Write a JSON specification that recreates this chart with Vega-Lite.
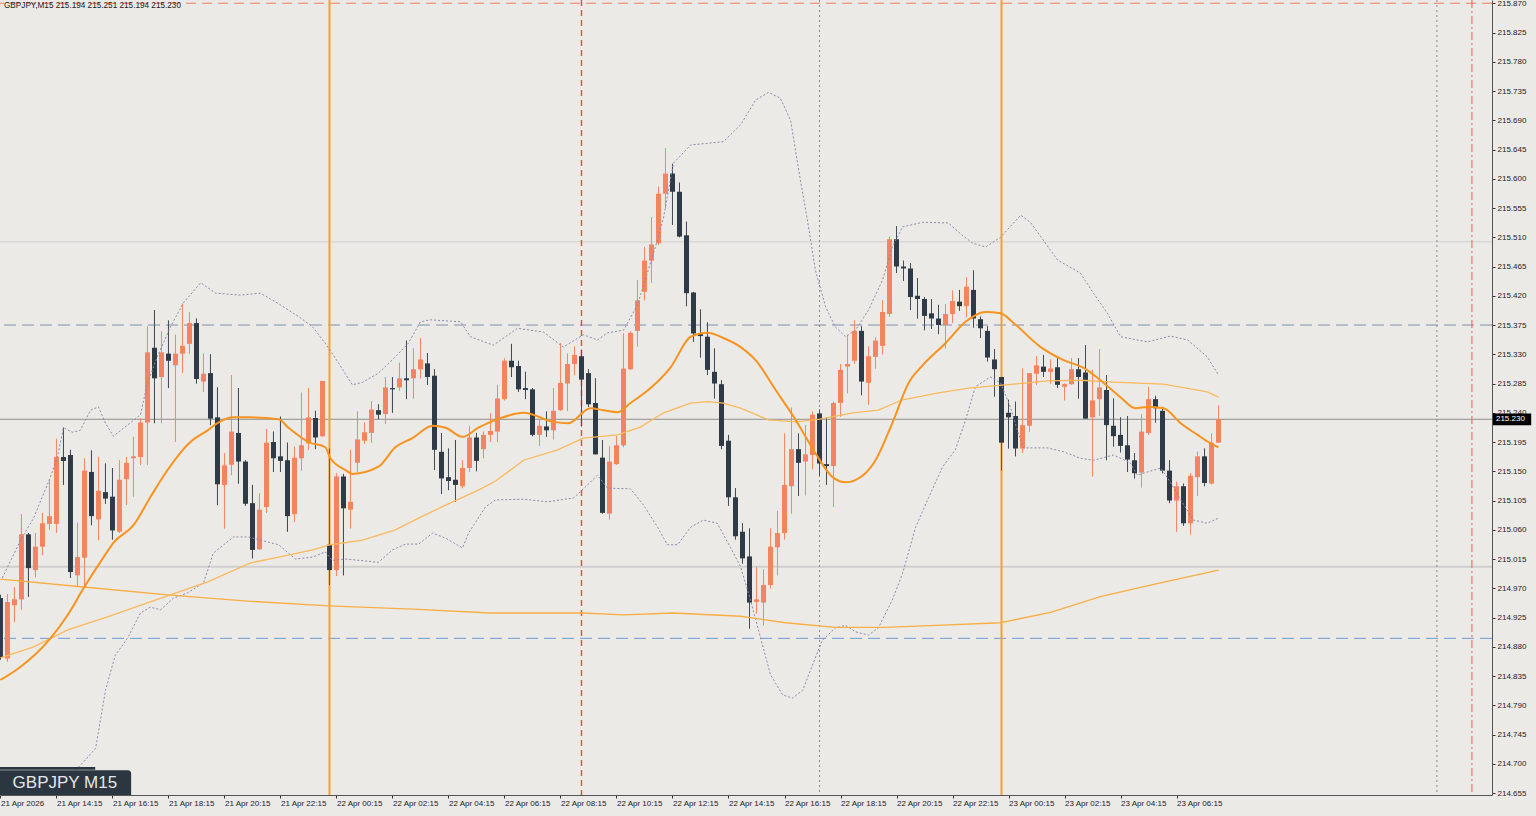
{
"$schema":"https://vega.github.io/schema/vega-lite/v6.json",
"width":1492,"height":795,
"autosize":{"type":"none"},
"padding":{"left":0,"top":0,"right":44,"bottom":21},
"background":"#ECEAE6",
"config":{"view":{"stroke":null},"font":"Liberation Sans"},
"datasets":{
"candles":[
{"t":"2026-04-21T12:15","o":214.955,"h":214.960,"l":214.860,"c":214.864},
{"t":"2026-04-21T12:30","o":214.862,"h":214.961,"l":214.857,"c":214.949},
{"t":"2026-04-21T12:45","o":214.944,"h":214.972,"l":214.918,"c":214.953},
{"t":"2026-04-21T13:00","o":214.953,"h":215.084,"l":214.937,"c":215.053},
{"t":"2026-04-21T13:15","o":215.053,"h":215.055,"l":214.957,"c":215.001},
{"t":"2026-04-21T13:30","o":214.998,"h":215.055,"l":214.987,"c":215.034},
{"t":"2026-04-21T13:45","o":215.034,"h":215.086,"l":215.021,"c":215.070},
{"t":"2026-04-21T14:00","o":215.069,"h":215.137,"l":215.060,"c":215.081},
{"t":"2026-04-21T14:15","o":215.069,"h":215.200,"l":215.055,"c":215.172},
{"t":"2026-04-21T14:30","o":215.172,"h":215.217,"l":215.129,"c":215.166},
{"t":"2026-04-21T14:45","o":215.175,"h":215.183,"l":214.986,"c":214.995},
{"t":"2026-04-21T15:00","o":214.990,"h":215.071,"l":214.973,"c":215.018},
{"t":"2026-04-21T15:15","o":215.017,"h":215.170,"l":214.972,"c":215.151},
{"t":"2026-04-21T15:30","o":215.149,"h":215.182,"l":215.067,"c":215.081},
{"t":"2026-04-21T15:45","o":215.076,"h":215.172,"l":215.044,"c":215.120},
{"t":"2026-04-21T16:00","o":215.118,"h":215.162,"l":215.100,"c":215.108},
{"t":"2026-04-21T16:15","o":215.111,"h":215.155,"l":215.045,"c":215.059},
{"t":"2026-04-21T16:30","o":215.057,"h":215.167,"l":215.055,"c":215.137},
{"t":"2026-04-21T16:45","o":215.138,"h":215.172,"l":215.098,"c":215.163},
{"t":"2026-04-21T17:00","o":215.170,"h":215.203,"l":215.111,"c":215.173},
{"t":"2026-04-21T17:15","o":215.172,"h":215.231,"l":215.160,"c":215.225},
{"t":"2026-04-21T17:30","o":215.225,"h":215.373,"l":215.160,"c":215.333},
{"t":"2026-04-21T17:45","o":215.340,"h":215.398,"l":215.224,"c":215.293},
{"t":"2026-04-21T18:00","o":215.295,"h":215.365,"l":215.224,"c":215.333},
{"t":"2026-04-21T18:15","o":215.331,"h":215.382,"l":215.278,"c":215.320},
{"t":"2026-04-21T18:30","o":215.313,"h":215.360,"l":215.195,"c":215.331},
{"t":"2026-04-21T18:45","o":215.331,"h":215.408,"l":215.301,"c":215.343},
{"t":"2026-04-21T19:00","o":215.346,"h":215.395,"l":215.331,"c":215.378},
{"t":"2026-04-21T19:15","o":215.378,"h":215.385,"l":215.285,"c":215.292},
{"t":"2026-04-21T19:30","o":215.288,"h":215.331,"l":215.272,"c":215.300},
{"t":"2026-04-21T19:45","o":215.301,"h":215.330,"l":215.221,"c":215.231},
{"t":"2026-04-21T20:00","o":215.233,"h":215.279,"l":215.098,"c":215.130},
{"t":"2026-04-21T20:15","o":215.129,"h":215.178,"l":215.062,"c":215.159},
{"t":"2026-04-21T20:30","o":215.160,"h":215.298,"l":215.144,"c":215.211},
{"t":"2026-04-21T20:45","o":215.209,"h":215.278,"l":215.131,"c":215.165},
{"t":"2026-04-21T21:00","o":215.165,"h":215.167,"l":215.097,"c":215.100},
{"t":"2026-04-21T21:15","o":215.101,"h":215.129,"l":215.016,"c":215.029},
{"t":"2026-04-21T21:30","o":215.030,"h":215.116,"l":215.029,"c":215.091},
{"t":"2026-04-21T21:45","o":215.095,"h":215.215,"l":215.086,"c":215.194},
{"t":"2026-04-21T22:00","o":215.195,"h":215.211,"l":215.149,"c":215.170},
{"t":"2026-04-21T22:15","o":215.173,"h":215.234,"l":215.149,"c":215.166},
{"t":"2026-04-21T22:30","o":215.167,"h":215.194,"l":215.057,"c":215.081},
{"t":"2026-04-21T22:45","o":215.084,"h":215.188,"l":215.072,"c":215.171},
{"t":"2026-04-21T23:00","o":215.170,"h":215.271,"l":215.151,"c":215.190},
{"t":"2026-04-21T23:15","o":215.193,"h":215.278,"l":215.183,"c":215.233},
{"t":"2026-04-21T23:30","o":215.232,"h":215.243,"l":215.184,"c":215.202},
{"t":"2026-04-21T23:45","o":215.204,"h":215.289,"l":215.203,"c":215.289},
{"t":"2026-04-22T00:00","o":215.037,"h":215.185,"l":214.975,"c":214.998},
{"t":"2026-04-22T00:15","o":214.998,"h":215.147,"l":214.989,"c":215.142},
{"t":"2026-04-22T00:30","o":215.142,"h":215.146,"l":214.990,"c":215.093},
{"t":"2026-04-22T00:45","o":215.091,"h":215.183,"l":215.062,"c":215.103},
{"t":"2026-04-22T01:00","o":215.163,"h":215.242,"l":215.149,"c":215.199},
{"t":"2026-04-22T01:15","o":215.197,"h":215.225,"l":215.192,"c":215.210},
{"t":"2026-04-22T01:30","o":215.209,"h":215.258,"l":215.194,"c":215.245},
{"t":"2026-04-22T01:45","o":215.244,"h":215.253,"l":215.230,"c":215.237},
{"t":"2026-04-22T02:00","o":215.238,"h":215.295,"l":215.223,"c":215.279},
{"t":"2026-04-22T02:15","o":215.278,"h":215.295,"l":215.240,"c":215.276},
{"t":"2026-04-22T02:30","o":215.279,"h":215.317,"l":215.274,"c":215.293},
{"t":"2026-04-22T02:45","o":215.293,"h":215.351,"l":215.261,"c":215.290},
{"t":"2026-04-22T03:00","o":215.293,"h":215.339,"l":215.262,"c":215.307},
{"t":"2026-04-22T03:15","o":215.307,"h":215.355,"l":215.293,"c":215.322},
{"t":"2026-04-22T03:30","o":215.316,"h":215.332,"l":215.283,"c":215.295},
{"t":"2026-04-22T03:45","o":215.297,"h":215.307,"l":215.152,"c":215.183},
{"t":"2026-04-22T04:00","o":215.180,"h":215.209,"l":215.115,"c":215.139},
{"t":"2026-04-22T04:15","o":215.141,"h":215.185,"l":215.121,"c":215.135},
{"t":"2026-04-22T04:30","o":215.137,"h":215.198,"l":215.103,"c":215.129},
{"t":"2026-04-22T04:45","o":215.127,"h":215.167,"l":215.124,"c":215.155},
{"t":"2026-04-22T05:00","o":215.155,"h":215.220,"l":215.149,"c":215.202},
{"t":"2026-04-22T05:15","o":215.202,"h":215.209,"l":215.150,"c":215.166},
{"t":"2026-04-22T05:30","o":215.184,"h":215.211,"l":215.170,"c":215.206},
{"t":"2026-04-22T05:45","o":215.206,"h":215.239,"l":215.195,"c":215.212},
{"t":"2026-04-22T06:00","o":215.211,"h":215.283,"l":215.195,"c":215.262},
{"t":"2026-04-22T06:15","o":215.261,"h":215.324,"l":215.259,"c":215.320},
{"t":"2026-04-22T06:30","o":215.320,"h":215.346,"l":215.295,"c":215.310},
{"t":"2026-04-22T06:45","o":215.312,"h":215.320,"l":215.272,"c":215.276},
{"t":"2026-04-22T07:00","o":215.278,"h":215.303,"l":215.261,"c":215.275},
{"t":"2026-04-22T07:15","o":215.276,"h":215.278,"l":215.204,"c":215.206},
{"t":"2026-04-22T07:30","o":215.206,"h":215.229,"l":215.189,"c":215.220},
{"t":"2026-04-22T07:45","o":215.219,"h":215.242,"l":215.203,"c":215.213},
{"t":"2026-04-22T08:00","o":215.213,"h":215.278,"l":215.199,"c":215.243},
{"t":"2026-04-22T08:15","o":215.244,"h":215.347,"l":215.243,"c":215.286},
{"t":"2026-04-22T08:30","o":215.285,"h":215.331,"l":215.243,"c":215.315},
{"t":"2026-04-22T08:45","o":215.315,"h":215.342,"l":215.298,"c":215.329},
{"t":"2026-04-22T09:00","o":215.327,"h":215.337,"l":215.219,"c":215.291},
{"t":"2026-04-22T09:15","o":215.301,"h":215.307,"l":215.249,"c":215.253},
{"t":"2026-04-22T09:30","o":215.255,"h":215.293,"l":215.176,"c":215.176},
{"t":"2026-04-22T09:45","o":215.171,"h":215.198,"l":215.085,"c":215.086},
{"t":"2026-04-22T10:00","o":215.085,"h":215.188,"l":215.076,"c":215.165},
{"t":"2026-04-22T10:15","o":215.161,"h":215.204,"l":215.160,"c":215.190},
{"t":"2026-04-22T10:30","o":215.190,"h":215.362,"l":215.187,"c":215.308},
{"t":"2026-04-22T10:45","o":215.307,"h":215.365,"l":215.306,"c":215.363},
{"t":"2026-04-22T11:00","o":215.366,"h":215.444,"l":215.342,"c":215.413},
{"t":"2026-04-22T11:15","o":215.426,"h":215.495,"l":215.413,"c":215.474},
{"t":"2026-04-22T11:30","o":215.474,"h":215.541,"l":215.440,"c":215.499},
{"t":"2026-04-22T11:45","o":215.501,"h":215.588,"l":215.498,"c":215.577},
{"t":"2026-04-22T12:00","o":215.577,"h":215.647,"l":215.555,"c":215.608},
{"t":"2026-04-22T12:15","o":215.608,"h":215.623,"l":215.529,"c":215.580},
{"t":"2026-04-22T12:30","o":215.580,"h":215.594,"l":215.510,"c":215.511},
{"t":"2026-04-22T12:45","o":215.513,"h":215.534,"l":215.404,"c":215.424},
{"t":"2026-04-22T13:00","o":215.425,"h":215.426,"l":215.349,"c":215.362},
{"t":"2026-04-22T13:15","o":215.361,"h":215.399,"l":215.325,"c":215.358},
{"t":"2026-04-22T13:30","o":215.357,"h":215.379,"l":215.298,"c":215.306},
{"t":"2026-04-22T13:45","o":215.303,"h":215.339,"l":215.262,"c":215.285},
{"t":"2026-04-22T14:00","o":215.284,"h":215.290,"l":215.184,"c":215.189},
{"t":"2026-04-22T14:15","o":215.197,"h":215.206,"l":215.097,"c":215.110},
{"t":"2026-04-22T14:30","o":215.110,"h":215.124,"l":215.045,"c":215.050},
{"t":"2026-04-22T14:45","o":215.057,"h":215.070,"l":215.008,"c":215.016},
{"t":"2026-04-22T15:00","o":215.019,"h":215.062,"l":214.908,"c":214.948},
{"t":"2026-04-22T15:15","o":214.949,"h":215.003,"l":214.931,"c":214.953},
{"t":"2026-04-22T15:30","o":214.948,"h":214.999,"l":214.913,"c":214.975},
{"t":"2026-04-22T15:45","o":214.975,"h":215.062,"l":214.970,"c":215.034},
{"t":"2026-04-22T16:00","o":215.033,"h":215.089,"l":214.990,"c":215.055},
{"t":"2026-04-22T16:15","o":215.055,"h":215.208,"l":215.045,"c":215.129},
{"t":"2026-04-22T16:30","o":215.127,"h":215.248,"l":215.085,"c":215.184},
{"t":"2026-04-22T16:45","o":215.184,"h":215.208,"l":215.112,"c":215.163},
{"t":"2026-04-22T17:00","o":215.165,"h":215.221,"l":215.113,"c":215.176},
{"t":"2026-04-22T17:15","o":215.175,"h":215.242,"l":215.153,"c":215.237},
{"t":"2026-04-22T17:30","o":215.239,"h":215.245,"l":215.143,"c":215.162},
{"t":"2026-04-22T17:45","o":215.161,"h":215.233,"l":215.129,"c":215.158},
{"t":"2026-04-22T18:00","o":215.158,"h":215.257,"l":215.095,"c":215.255},
{"t":"2026-04-22T18:15","o":215.255,"h":215.315,"l":215.234,"c":215.306},
{"t":"2026-04-22T18:30","o":215.311,"h":215.360,"l":215.270,"c":215.315},
{"t":"2026-04-22T18:45","o":215.320,"h":215.382,"l":215.315,"c":215.366},
{"t":"2026-04-22T19:00","o":215.366,"h":215.373,"l":215.267,"c":215.288},
{"t":"2026-04-22T19:15","o":215.286,"h":215.342,"l":215.252,"c":215.327},
{"t":"2026-04-22T19:30","o":215.326,"h":215.356,"l":215.308,"c":215.351},
{"t":"2026-04-22T19:45","o":215.343,"h":215.413,"l":215.330,"c":215.395},
{"t":"2026-04-22T20:00","o":215.392,"h":215.511,"l":215.388,"c":215.507},
{"t":"2026-04-22T20:15","o":215.507,"h":215.527,"l":215.455,"c":215.465},
{"t":"2026-04-22T20:30","o":215.465,"h":215.474,"l":215.443,"c":215.462},
{"t":"2026-04-22T20:45","o":215.462,"h":215.470,"l":215.398,"c":215.418},
{"t":"2026-04-22T21:00","o":215.420,"h":215.447,"l":215.385,"c":215.415},
{"t":"2026-04-22T21:15","o":215.415,"h":215.418,"l":215.367,"c":215.389},
{"t":"2026-04-22T21:30","o":215.393,"h":215.415,"l":215.369,"c":215.385},
{"t":"2026-04-22T21:45","o":215.385,"h":215.406,"l":215.361,"c":215.375},
{"t":"2026-04-22T22:00","o":215.375,"h":215.407,"l":215.339,"c":215.392},
{"t":"2026-04-22T22:15","o":215.392,"h":215.428,"l":215.378,"c":215.412},
{"t":"2026-04-22T22:30","o":215.411,"h":215.429,"l":215.397,"c":215.404},
{"t":"2026-04-22T22:45","o":215.404,"h":215.448,"l":215.387,"c":215.434},
{"t":"2026-04-22T23:00","o":215.429,"h":215.459,"l":215.371,"c":215.385},
{"t":"2026-04-22T23:15","o":215.384,"h":215.388,"l":215.355,"c":215.370},
{"t":"2026-04-22T23:30","o":215.366,"h":215.373,"l":215.319,"c":215.325},
{"t":"2026-04-22T23:45","o":215.322,"h":215.338,"l":215.265,"c":215.307},
{"t":"2026-04-23T00:00","o":215.295,"h":215.295,"l":215.151,"c":215.194},
{"t":"2026-04-23T00:15","o":215.240,"h":215.260,"l":215.185,"c":215.233},
{"t":"2026-04-23T00:30","o":215.235,"h":215.257,"l":215.173,"c":215.185},
{"t":"2026-04-23T00:45","o":215.185,"h":215.308,"l":215.178,"c":215.221},
{"t":"2026-04-23T01:00","o":215.220,"h":215.301,"l":215.211,"c":215.301},
{"t":"2026-04-23T01:15","o":215.300,"h":215.327,"l":215.283,"c":215.313},
{"t":"2026-04-23T01:30","o":215.311,"h":215.329,"l":215.295,"c":215.303},
{"t":"2026-04-23T01:45","o":215.303,"h":215.322,"l":215.285,"c":215.308},
{"t":"2026-04-23T02:00","o":215.310,"h":215.324,"l":215.278,"c":215.283},
{"t":"2026-04-23T02:15","o":215.280,"h":215.285,"l":215.259,"c":215.284},
{"t":"2026-04-23T02:30","o":215.284,"h":215.324,"l":215.283,"c":215.307},
{"t":"2026-04-23T02:45","o":215.307,"h":215.324,"l":215.262,"c":215.295},
{"t":"2026-04-23T03:00","o":215.302,"h":215.344,"l":215.231,"c":215.231},
{"t":"2026-04-23T03:15","o":215.233,"h":215.306,"l":215.142,"c":215.259},
{"t":"2026-04-23T03:30","o":215.261,"h":215.338,"l":215.235,"c":215.279},
{"t":"2026-04-23T03:45","o":215.275,"h":215.298,"l":215.167,"c":215.221},
{"t":"2026-04-23T04:00","o":215.220,"h":215.262,"l":215.188,"c":215.204},
{"t":"2026-04-23T04:15","o":215.206,"h":215.233,"l":215.179,"c":215.189},
{"t":"2026-04-23T04:30","o":215.190,"h":215.235,"l":215.149,"c":215.168},
{"t":"2026-04-23T04:45","o":215.167,"h":215.178,"l":215.139,"c":215.147},
{"t":"2026-04-23T05:00","o":215.148,"h":215.238,"l":215.125,"c":215.211},
{"t":"2026-04-23T05:15","o":215.209,"h":215.280,"l":215.206,"c":215.261},
{"t":"2026-04-23T05:30","o":215.261,"h":215.266,"l":215.225,"c":215.247},
{"t":"2026-04-23T05:45","o":215.243,"h":215.249,"l":215.147,"c":215.151},
{"t":"2026-04-23T06:00","o":215.151,"h":215.167,"l":215.101,"c":215.105},
{"t":"2026-04-23T06:15","o":215.105,"h":215.134,"l":215.057,"c":215.127},
{"t":"2026-04-23T06:30","o":215.127,"h":215.131,"l":215.066,"c":215.070},
{"t":"2026-04-23T06:45","o":215.070,"h":215.147,"l":215.053,"c":215.143},
{"t":"2026-04-23T07:00","o":215.141,"h":215.180,"l":215.112,"c":215.173},
{"t":"2026-04-23T07:15","o":215.173,"h":215.185,"l":215.127,"c":215.132},
{"t":"2026-04-23T07:30","o":215.131,"h":215.208,"l":215.130,"c":215.194},
{"t":"2026-04-23T07:45","o":215.194,"h":215.251,"l":215.194,"c":215.230}
],
"fast":[
{"t":"2026-04-21T12:15","v":214.829},{"t":"2026-04-21T12:54","v":214.847},{"t":"2026-04-21T14:02","v":214.893},{"t":"2026-04-21T14:39","v":214.929},{"t":"2026-04-21T15:13","v":214.970},{"t":"2026-04-21T15:56","v":215.018},{"t":"2026-04-21T16:17","v":215.040},{"t":"2026-04-21T17:00","v":215.067},{"t":"2026-04-21T17:36","v":215.110},{"t":"2026-04-21T18:13","v":215.152},{"t":"2026-04-21T19:02","v":215.195},{"t":"2026-04-21T19:39","v":215.213},{"t":"2026-04-21T20:00","v":215.224},{"t":"2026-04-21T20:34","v":215.233},{"t":"2026-04-21T21:06","v":215.233},{"t":"2026-04-21T22:11","v":215.230},{"t":"2026-04-21T22:32","v":215.217},{"t":"2026-04-21T23:15","v":215.195},{"t":"2026-04-21T23:51","v":215.187},{"t":"2026-04-22T00:02","v":215.170},{"t":"2026-04-22T00:34","v":215.152},{"t":"2026-04-22T00:49","v":215.146},{"t":"2026-04-22T01:45","v":215.157},{"t":"2026-04-22T02:21","v":215.187},{"t":"2026-04-22T02:58","v":215.201},{"t":"2026-04-22T03:41","v":215.220},{"t":"2026-04-22T04:09","v":215.217},{"t":"2026-04-22T04:45","v":215.203},{"t":"2026-04-22T05:19","v":215.217},{"t":"2026-04-22T05:56","v":215.229},{"t":"2026-04-22T06:56","v":215.240},{"t":"2026-04-22T08:00","v":215.226},{"t":"2026-04-22T08:32","v":215.224},{"t":"2026-04-22T09:19","v":215.247},{"t":"2026-04-22T09:47","v":215.244},{"t":"2026-04-22T10:17","v":215.241},{"t":"2026-04-22T10:45","v":215.255},{"t":"2026-04-22T11:28","v":215.278},{"t":"2026-04-22T12:11","v":215.310},{"t":"2026-04-22T12:54","v":215.357},{"t":"2026-04-22T13:30","v":215.363},{"t":"2026-04-22T14:04","v":215.355},{"t":"2026-04-22T14:41","v":215.341},{"t":"2026-04-22T15:13","v":215.321},{"t":"2026-04-22T15:56","v":215.275},{"t":"2026-04-22T16:39","v":215.229},{"t":"2026-04-22T17:21","v":215.178},{"t":"2026-04-22T17:58","v":215.141},{"t":"2026-04-22T18:26","v":215.133},{"t":"2026-04-22T19:02","v":215.143},{"t":"2026-04-22T19:30","v":215.167},{"t":"2026-04-22T20:06","v":215.224},{"t":"2026-04-22T20:41","v":215.286},{"t":"2026-04-22T21:11","v":215.313},{"t":"2026-04-22T22:00","v":215.347},{"t":"2026-04-22T22:43","v":215.380},{"t":"2026-04-22T23:26","v":215.395},{"t":"2026-04-22T23:58","v":215.393},{"t":"2026-04-23T00:26","v":215.378},{"t":"2026-04-23T01:24","v":215.341},{"t":"2026-04-23T02:13","v":215.321},{"t":"2026-04-23T02:56","v":215.309},{"t":"2026-04-23T03:32","v":215.290},{"t":"2026-04-23T04:15","v":215.264},{"t":"2026-04-23T04:47","v":215.247},{"t":"2026-04-23T05:13","v":215.249},{"t":"2026-04-23T05:47","v":215.247},{"t":"2026-04-23T06:24","v":215.224},{"t":"2026-04-23T07:00","v":215.206},{"t":"2026-04-23T07:28","v":215.193},{"t":"2026-04-23T07:45","v":215.187}
],
"mid":[
{"t":"2026-04-21T12:15","v":214.863},{"t":"2026-04-21T13:26","v":214.880},{"t":"2026-04-21T14:39","v":214.906},{"t":"2026-04-21T16:04","v":214.926},{"t":"2026-04-21T17:36","v":214.949},{"t":"2026-04-21T19:39","v":214.980},{"t":"2026-04-21T21:11","v":215.009},{"t":"2026-04-21T22:11","v":215.018},{"t":"2026-04-21T23:24","v":215.029},{"t":"2026-04-22T00:02","v":215.037},{"t":"2026-04-22T01:11","v":215.044},{"t":"2026-04-22T02:21","v":215.060},{"t":"2026-04-22T03:11","v":215.078},{"t":"2026-04-22T04:09","v":215.098},{"t":"2026-04-22T05:19","v":215.121},{"t":"2026-04-22T05:56","v":215.135},{"t":"2026-04-22T06:56","v":215.167},{"t":"2026-04-22T08:09","v":215.183},{"t":"2026-04-22T09:04","v":215.201},{"t":"2026-04-22T10:17","v":215.206},{"t":"2026-04-22T11:06","v":215.218},{"t":"2026-04-22T11:56","v":215.240},{"t":"2026-04-22T12:54","v":215.255},{"t":"2026-04-22T13:30","v":215.257},{"t":"2026-04-22T14:04","v":215.255},{"t":"2026-04-22T14:41","v":215.247},{"t":"2026-04-22T15:41","v":215.229},{"t":"2026-04-22T16:39","v":215.226},{"t":"2026-04-22T17:28","v":215.230},{"t":"2026-04-22T18:41","v":215.240},{"t":"2026-04-22T19:36","v":215.244},{"t":"2026-04-22T20:28","v":215.260},{"t":"2026-04-22T21:39","v":215.270},{"t":"2026-04-22T22:49","v":215.278},{"t":"2026-04-23T00:26","v":215.284},{"t":"2026-04-23T01:39","v":215.289},{"t":"2026-04-23T02:49","v":215.290},{"t":"2026-04-23T04:00","v":215.287},{"t":"2026-04-23T05:47","v":215.284},{"t":"2026-04-23T07:21","v":215.272},{"t":"2026-04-23T07:45","v":215.264}
],
"slow":[
{"t":"2026-04-21T12:15","v":214.984},{"t":"2026-04-21T15:13","v":214.972},{"t":"2026-04-21T18:13","v":214.960},{"t":"2026-04-21T21:11","v":214.950},{"t":"2026-04-21T23:58","v":214.943},{"t":"2026-04-22T02:58","v":214.938},{"t":"2026-04-22T05:45","v":214.932},{"t":"2026-04-22T09:02","v":214.932},{"t":"2026-04-22T10:30","v":214.929},{"t":"2026-04-22T12:17","v":214.932},{"t":"2026-04-22T14:41","v":214.927},{"t":"2026-04-22T16:17","v":214.917},{"t":"2026-04-22T18:04","v":214.910},{"t":"2026-04-22T19:51","v":214.910},{"t":"2026-04-22T21:39","v":214.913},{"t":"2026-04-22T23:58","v":214.917},{"t":"2026-04-23T01:45","v":214.933},{"t":"2026-04-23T03:32","v":214.957},{"t":"2026-04-23T05:19","v":214.975},{"t":"2026-04-23T07:45","v":214.998}
],
"bb":[
{"b":"up","t":"2026-04-21T12:19","v":214.986},{"b":"up","t":"2026-04-21T12:58","v":215.044},{"b":"up","t":"2026-04-21T13:26","v":215.078},{"b":"up","t":"2026-04-21T14:02","v":215.141},{"b":"up","t":"2026-04-21T14:17","v":215.172},{"b":"up","t":"2026-04-21T14:30","v":215.217},{"b":"up","t":"2026-04-21T14:49","v":215.210},{"b":"up","t":"2026-04-21T15:06","v":215.213},{"b":"up","t":"2026-04-21T15:28","v":215.244},{"b":"up","t":"2026-04-21T15:45","v":215.249},{"b":"up","t":"2026-04-21T16:00","v":215.224},{"b":"up","t":"2026-04-21T16:17","v":215.204},{"b":"up","t":"2026-04-21T16:47","v":215.221},{"b":"up","t":"2026-04-21T17:15","v":215.237},{"b":"up","t":"2026-04-21T17:30","v":215.286},{"b":"up","t":"2026-04-21T17:51","v":215.326},{"b":"up","t":"2026-04-21T18:19","v":215.372},{"b":"up","t":"2026-04-21T18:47","v":215.409},{"b":"up","t":"2026-04-21T19:24","v":215.440},{"b":"up","t":"2026-04-21T19:56","v":215.424},{"b":"up","t":"2026-04-21T20:49","v":215.421},{"b":"up","t":"2026-04-21T21:32","v":215.424},{"b":"up","t":"2026-04-21T22:15","v":215.406},{"b":"up","t":"2026-04-21T22:58","v":215.386},{"b":"up","t":"2026-04-21T23:24","v":215.372},{"b":"up","t":"2026-04-21T23:51","v":215.347},{"b":"up","t":"2026-04-22T00:19","v":215.317},{"b":"up","t":"2026-04-22T00:49","v":215.283},{"b":"up","t":"2026-04-22T01:11","v":215.287},{"b":"up","t":"2026-04-22T01:45","v":215.301},{"b":"up","t":"2026-04-22T02:21","v":215.326},{"b":"up","t":"2026-04-22T02:49","v":215.347},{"b":"up","t":"2026-04-22T03:15","v":215.380},{"b":"up","t":"2026-04-22T03:36","v":215.383},{"b":"up","t":"2026-04-22T04:41","v":215.380},{"b":"up","t":"2026-04-22T05:02","v":215.357},{"b":"up","t":"2026-04-22T05:51","v":215.344},{"b":"up","t":"2026-04-22T06:43","v":215.370},{"b":"up","t":"2026-04-22T07:39","v":215.364},{"b":"up","t":"2026-04-22T08:21","v":215.341},{"b":"up","t":"2026-04-22T09:04","v":215.360},{"b":"up","t":"2026-04-22T09:34","v":215.352},{"b":"up","t":"2026-04-22T09:56","v":215.363},{"b":"up","t":"2026-04-22T10:30","v":215.367},{"b":"up","t":"2026-04-22T11:00","v":215.406},{"b":"up","t":"2026-04-22T11:21","v":215.455},{"b":"up","t":"2026-04-22T11:43","v":215.506},{"b":"up","t":"2026-04-22T11:56","v":215.541},{"b":"up","t":"2026-04-22T12:17","v":215.624},{"b":"up","t":"2026-04-22T12:54","v":215.652},{"b":"up","t":"2026-04-22T14:04","v":215.657},{"b":"up","t":"2026-04-22T14:41","v":215.683},{"b":"up","t":"2026-04-22T15:13","v":215.721},{"b":"up","t":"2026-04-22T15:41","v":215.733},{"b":"up","t":"2026-04-22T16:06","v":215.724},{"b":"up","t":"2026-04-22T16:28","v":215.690},{"b":"up","t":"2026-04-22T16:49","v":215.598},{"b":"up","t":"2026-04-22T17:04","v":215.537},{"b":"up","t":"2026-04-22T17:21","v":215.460},{"b":"up","t":"2026-04-22T17:43","v":215.403},{"b":"up","t":"2026-04-22T18:04","v":215.372},{"b":"up","t":"2026-04-22T18:26","v":215.357},{"b":"up","t":"2026-04-22T18:47","v":215.367},{"b":"up","t":"2026-04-22T19:15","v":215.398},{"b":"up","t":"2026-04-22T19:45","v":215.444},{"b":"up","t":"2026-04-22T20:06","v":215.495},{"b":"up","t":"2026-04-22T20:28","v":215.526},{"b":"up","t":"2026-04-22T21:11","v":215.533},{"b":"up","t":"2026-04-22T22:06","v":215.532},{"b":"up","t":"2026-04-22T22:36","v":215.513},{"b":"up","t":"2026-04-22T22:58","v":215.501},{"b":"up","t":"2026-04-22T23:26","v":215.495},{"b":"up","t":"2026-04-22T23:58","v":215.510},{"b":"up","t":"2026-04-23T00:41","v":215.544},{"b":"up","t":"2026-04-23T01:02","v":215.533},{"b":"up","t":"2026-04-23T02:00","v":215.475},{"b":"up","t":"2026-04-23T02:49","v":215.455},{"b":"up","t":"2026-04-23T03:17","v":215.424},{"b":"up","t":"2026-04-23T03:47","v":215.393},{"b":"up","t":"2026-04-23T04:15","v":215.357},{"b":"up","t":"2026-04-23T05:13","v":215.349},{"b":"up","t":"2026-04-23T06:02","v":215.358},{"b":"up","t":"2026-04-23T06:39","v":215.352},{"b":"up","t":"2026-04-23T07:21","v":215.326},{"b":"up","t":"2026-04-23T07:45","v":215.298},
{"b":"lo","t":"2026-04-21T14:56","v":214.690},{"b":"lo","t":"2026-04-21T15:17","v":214.706},{"b":"lo","t":"2026-04-21T15:39","v":214.724},{"b":"lo","t":"2026-04-21T16:00","v":214.813},{"b":"lo","t":"2026-04-21T16:21","v":214.867},{"b":"lo","t":"2026-04-21T16:47","v":214.893},{"b":"lo","t":"2026-04-21T17:15","v":214.932},{"b":"lo","t":"2026-04-21T17:36","v":214.941},{"b":"lo","t":"2026-04-21T17:58","v":214.937},{"b":"lo","t":"2026-04-21T18:26","v":214.955},{"b":"lo","t":"2026-04-21T18:56","v":214.963},{"b":"lo","t":"2026-04-21T19:30","v":214.978},{"b":"lo","t":"2026-04-21T19:51","v":215.024},{"b":"lo","t":"2026-04-21T20:34","v":215.049},{"b":"lo","t":"2026-04-21T21:06","v":215.049},{"b":"lo","t":"2026-04-21T22:11","v":215.037},{"b":"lo","t":"2026-04-21T22:47","v":215.015},{"b":"lo","t":"2026-04-21T23:24","v":215.018},{"b":"lo","t":"2026-04-21T23:51","v":215.026},{"b":"lo","t":"2026-04-22T00:06","v":215.013},{"b":"lo","t":"2026-04-22T00:34","v":215.015},{"b":"lo","t":"2026-04-22T01:45","v":215.010},{"b":"lo","t":"2026-04-22T02:15","v":215.029},{"b":"lo","t":"2026-04-22T02:43","v":215.038},{"b":"lo","t":"2026-04-22T03:11","v":215.038},{"b":"lo","t":"2026-04-22T03:41","v":215.055},{"b":"lo","t":"2026-04-22T04:09","v":215.047},{"b":"lo","t":"2026-04-22T04:45","v":215.032},{"b":"lo","t":"2026-04-22T04:58","v":215.055},{"b":"lo","t":"2026-04-22T05:34","v":215.095},{"b":"lo","t":"2026-04-22T05:56","v":215.106},{"b":"lo","t":"2026-04-22T06:56","v":215.107},{"b":"lo","t":"2026-04-22T07:47","v":215.103},{"b":"lo","t":"2026-04-22T08:43","v":215.109},{"b":"lo","t":"2026-04-22T09:13","v":215.129},{"b":"lo","t":"2026-04-22T09:34","v":215.144},{"b":"lo","t":"2026-04-22T09:56","v":215.124},{"b":"lo","t":"2026-04-22T10:45","v":215.123},{"b":"lo","t":"2026-04-22T11:13","v":215.098},{"b":"lo","t":"2026-04-22T11:43","v":215.064},{"b":"lo","t":"2026-04-22T12:04","v":215.037},{"b":"lo","t":"2026-04-22T12:26","v":215.037},{"b":"lo","t":"2026-04-22T12:54","v":215.064},{"b":"lo","t":"2026-04-22T13:21","v":215.075},{"b":"lo","t":"2026-04-22T13:51","v":215.070},{"b":"lo","t":"2026-04-22T14:19","v":215.033},{"b":"lo","t":"2026-04-22T14:41","v":215.003},{"b":"lo","t":"2026-04-22T15:02","v":214.952},{"b":"lo","t":"2026-04-22T15:24","v":214.893},{"b":"lo","t":"2026-04-22T15:45","v":214.837},{"b":"lo","t":"2026-04-22T16:11","v":214.806},{"b":"lo","t":"2026-04-22T16:32","v":214.801},{"b":"lo","t":"2026-04-22T16:54","v":214.813},{"b":"lo","t":"2026-04-22T17:15","v":214.852},{"b":"lo","t":"2026-04-22T17:36","v":214.890},{"b":"lo","t":"2026-04-22T18:04","v":214.909},{"b":"lo","t":"2026-04-22T18:26","v":214.913},{"b":"lo","t":"2026-04-22T18:47","v":214.903},{"b":"lo","t":"2026-04-22T19:15","v":214.898},{"b":"lo","t":"2026-04-22T19:36","v":214.909},{"b":"lo","t":"2026-04-22T20:06","v":214.952},{"b":"lo","t":"2026-04-22T20:28","v":214.993},{"b":"lo","t":"2026-04-22T20:56","v":215.064},{"b":"lo","t":"2026-04-22T21:24","v":215.110},{"b":"lo","t":"2026-04-22T21:54","v":215.157},{"b":"lo","t":"2026-04-22T22:21","v":215.183},{"b":"lo","t":"2026-04-22T22:43","v":215.229},{"b":"lo","t":"2026-04-22T23:04","v":215.280},{"b":"lo","t":"2026-04-22T23:36","v":215.295},{"b":"lo","t":"2026-04-22T23:58","v":215.286},{"b":"lo","t":"2026-04-23T00:19","v":215.249},{"b":"lo","t":"2026-04-23T00:34","v":215.213},{"b":"lo","t":"2026-04-23T00:47","v":215.186},{"b":"lo","t":"2026-04-23T01:39","v":215.186},{"b":"lo","t":"2026-04-23T02:13","v":215.180},{"b":"lo","t":"2026-04-23T02:49","v":215.170},{"b":"lo","t":"2026-04-23T03:17","v":215.167},{"b":"lo","t":"2026-04-23T04:00","v":215.175},{"b":"lo","t":"2026-04-23T04:36","v":215.163},{"b":"lo","t":"2026-04-23T04:51","v":215.144},{"b":"lo","t":"2026-04-23T05:13","v":215.149},{"b":"lo","t":"2026-04-23T05:41","v":215.155},{"b":"lo","t":"2026-04-23T06:02","v":215.133},{"b":"lo","t":"2026-04-23T06:24","v":215.106},{"b":"lo","t":"2026-04-23T06:51","v":215.075},{"b":"lo","t":"2026-04-23T07:21","v":215.070},{"b":"lo","t":"2026-04-23T07:45","v":215.078}
]
},
"layer":[
{"data":{"name":"candles"},"mark":{"type":"rule","strokeWidth":1,"opacity":0.8},
 "encoding":{
  "x":{"field":"t","type":"temporal","scale":{"domain":[{"year":2026,"month":4,"date":21,"hours":12,"minutes":14},{"year":2026,"month":4,"date":23,"hours":17,"minutes":31}],"padding":0},
   "axis":{"orient":"bottom","title":null,"grid":false,"tickCount":40,"values":[
    {"year":2026,"month":4,"date":21,"hours":12,"minutes":15},{"year":2026,"month":4,"date":21,"hours":14,"minutes":15},{"year":2026,"month":4,"date":21,"hours":16,"minutes":15},{"year":2026,"month":4,"date":21,"hours":18,"minutes":15},{"year":2026,"month":4,"date":21,"hours":20,"minutes":15},{"year":2026,"month":4,"date":21,"hours":22,"minutes":15},
    {"year":2026,"month":4,"date":22,"hours":0,"minutes":15},{"year":2026,"month":4,"date":22,"hours":2,"minutes":15},{"year":2026,"month":4,"date":22,"hours":4,"minutes":15},{"year":2026,"month":4,"date":22,"hours":6,"minutes":15},{"year":2026,"month":4,"date":22,"hours":8,"minutes":15},{"year":2026,"month":4,"date":22,"hours":10,"minutes":15},{"year":2026,"month":4,"date":22,"hours":12,"minutes":15},{"year":2026,"month":4,"date":22,"hours":14,"minutes":15},{"year":2026,"month":4,"date":22,"hours":16,"minutes":15},{"year":2026,"month":4,"date":22,"hours":18,"minutes":15},{"year":2026,"month":4,"date":22,"hours":20,"minutes":15},{"year":2026,"month":4,"date":22,"hours":22,"minutes":15},
    {"year":2026,"month":4,"date":23,"hours":0,"minutes":15},{"year":2026,"month":4,"date":23,"hours":2,"minutes":15},{"year":2026,"month":4,"date":23,"hours":4,"minutes":15},{"year":2026,"month":4,"date":23,"hours":6,"minutes":15}],
    "format":"%d %b %H:%M","labelExpr":"datum.index == 0 ? '21 Apr 2026' : datum.label",
    "labelAlign":"left","labelBaseline":"top","labelPadding":1,"labelFontSize":8,"labelColor":"#222","labelFont":"Liberation Sans",
    "tickSize":3,"tickColor":"#333","domainColor":"#555","domainWidth":1,"labelOverlap":false,"labelFlush":false,"labelBound":false}},
  "y":{"field":"l","type":"quantitative","scale":{"domain":[214.652,215.875],"zero":false,"nice":false},
   "axis":{"orient":"right","title":null,"grid":false,"tickCount":60,"values":[214.655,214.700,214.745,214.790,214.835,214.880,214.925,214.970,215.015,215.060,215.105,215.150,215.195,215.240,215.285,215.330,215.375,215.420,215.465,215.510,215.555,215.600,215.645,215.690,215.735,215.780,215.825,215.870],
    "format":".3f","labelFontSize":8,"labelColor":"#222","labelFont":"Liberation Sans","labelPadding":2,"tickSize":3,"tickColor":"#333","domainColor":"#555","domainWidth":1,"labelOverlap":false,"labelFlush":false,"labelBound":false,"labelBaseline":"middle"}},
  "y2":{"field":"h"},
  "color":{"condition":{"test":"datum.c >= datum.o","value":"#F4845F"},"value":"#3A4652"}}},
{"data":{"values":[{"p":215.870}]},"mark":{"type":"rule","color":"#F07D6C","strokeWidth":1.2,"strokeDash":[10,6]},
 "encoding":{"y":{"field":"p","type":"quantitative","title":null,"scale":{"domain":[214.652,215.875],"zero":false,"nice":false}}}},
{"data":{"values":[{"p":215.503}]},"mark":{"type":"rule","color":"#CFCFCF","strokeWidth":1},
 "encoding":{"y":{"field":"p","type":"quantitative","title":null,"scale":{"domain":[214.652,215.875],"zero":false,"nice":false}}}},
{"data":{"values":[{"p":215.375}]},"mark":{"type":"rule","color":"#7F90AA","strokeWidth":1,"strokeDash":[12,6]},
 "encoding":{"y":{"field":"p","type":"quantitative","title":null,"scale":{"domain":[214.652,215.875],"zero":false,"nice":false}}}},
{"data":{"values":[{"p":215.230}]},"mark":{"type":"rule","color":"#8E8E8E","strokeWidth":1},
 "encoding":{"y":{"field":"p","type":"quantitative","title":null,"scale":{"domain":[214.652,215.875],"zero":false,"nice":false}}}},
{"data":{"values":[{"p":215.003}]},"mark":{"type":"rule","color":"#CFCFCF","strokeWidth":2},
 "encoding":{"y":{"field":"p","type":"quantitative","title":null,"scale":{"domain":[214.652,215.875],"zero":false,"nice":false}}}},
{"data":{"values":[{"p":214.893}]},"mark":{"type":"rule","color":"#6C9BD2","strokeWidth":1,"strokeDash":[12,6]},
 "encoding":{"y":{"field":"p","type":"quantitative","title":null,"scale":{"domain":[214.652,215.875],"zero":false,"nice":false}}}},
{"data":{"values":[{"t":"2026-04-22T00:00"},{"t":"2026-04-23T00:00"}]},"mark":{"type":"rule","color":"#F5A02A","strokeWidth":2},
 "encoding":{"x":{"field":"t","type":"temporal","title":null,"scale":{"domain":[{"year":2026,"month":4,"date":21,"hours":12,"minutes":14},{"year":2026,"month":4,"date":23,"hours":17,"minutes":31}],"padding":0}}}},
{"data":{"values":[{"t":"2026-04-22T09:00"}]},"mark":{"type":"rule","color":"#F0463C","strokeWidth":1.4,"strokeDash":[6,4]},
 "encoding":{"x":{"field":"t","type":"temporal","title":null,"scale":{"domain":[{"year":2026,"month":4,"date":21,"hours":12,"minutes":14},{"year":2026,"month":4,"date":23,"hours":17,"minutes":31}],"padding":0}}}},
{"data":{"values":[{"t":"2026-04-22T17:30"},{"t":"2026-04-23T15:33"}]},"mark":{"type":"rule","color":"#8A8A8A","strokeWidth":1,"strokeDash":[2,3]},
 "encoding":{"x":{"field":"t","type":"temporal","title":null,"scale":{"domain":[{"year":2026,"month":4,"date":21,"hours":12,"minutes":14},{"year":2026,"month":4,"date":23,"hours":17,"minutes":31}],"padding":0}}}},
{"data":{"values":[{"t":"2026-04-23T16:48"}]},"mark":{"type":"rule","color":"#EE5A50","strokeWidth":1,"strokeDash":[8,3,2,3]},
 "encoding":{"x":{"field":"t","type":"temporal","title":null,"scale":{"domain":[{"year":2026,"month":4,"date":21,"hours":12,"minutes":14},{"year":2026,"month":4,"date":23,"hours":17,"minutes":31}],"padding":0}}}},
{"data":{"name":"candles"},"mark":{"type":"rule","strokeWidth":1,"opacity":0.8},
 "encoding":{
  "x":{"field":"t","type":"temporal","title":null,"scale":{"domain":[{"year":2026,"month":4,"date":21,"hours":12,"minutes":14},{"year":2026,"month":4,"date":23,"hours":17,"minutes":31}],"padding":0}},
  "y":{"field":"l","type":"quantitative","title":null,"scale":{"domain":[214.652,215.875],"zero":false,"nice":false}},
  "y2":{"field":"h"},
  "color":{"condition":{"test":"datum.c >= datum.o","value":"#F4845F"},"value":"#3A4652"}}},
{"data":{"name":"candles"},"mark":{"type":"bar","size":5},
 "encoding":{
  "x":{"field":"t","type":"temporal","title":null,"scale":{"domain":[{"year":2026,"month":4,"date":21,"hours":12,"minutes":14},{"year":2026,"month":4,"date":23,"hours":17,"minutes":31}],"padding":0}},
  "y":{"field":"o","type":"quantitative","title":null,"scale":{"domain":[214.652,215.875],"zero":false,"nice":false}},
  "y2":{"field":"c"},
  "color":{"condition":{"test":"datum.c >= datum.o","value":"#F4845F"},"value":"#2E3A46"}}},
{"data":{"name":"bb"},"mark":{"type":"line","color":"#8B87AD","strokeWidth":1,"strokeDash":[2,2]},
 "encoding":{
  "x":{"field":"t","type":"temporal","title":null,"scale":{"domain":[{"year":2026,"month":4,"date":21,"hours":12,"minutes":14},{"year":2026,"month":4,"date":23,"hours":17,"minutes":31}],"padding":0}},
  "y":{"field":"v","type":"quantitative","title":null,"scale":{"domain":[214.652,215.875],"zero":false,"nice":false}},
  "detail":{"field":"b"}}},
{"data":{"name":"slow"},"mark":{"type":"line","color":"#F8AE45","strokeWidth":1.3},
 "encoding":{
  "x":{"field":"t","type":"temporal","title":null,"scale":{"domain":[{"year":2026,"month":4,"date":21,"hours":12,"minutes":14},{"year":2026,"month":4,"date":23,"hours":17,"minutes":31}],"padding":0}},
  "y":{"field":"v","type":"quantitative","title":null,"scale":{"domain":[214.652,215.875],"zero":false,"nice":false}}}},
{"data":{"name":"mid"},"mark":{"type":"line","color":"#FAB95E","strokeWidth":1.3},
 "encoding":{
  "x":{"field":"t","type":"temporal","title":null,"scale":{"domain":[{"year":2026,"month":4,"date":21,"hours":12,"minutes":14},{"year":2026,"month":4,"date":23,"hours":17,"minutes":31}],"padding":0}},
  "y":{"field":"v","type":"quantitative","title":null,"scale":{"domain":[214.652,215.875],"zero":false,"nice":false}}}},
{"data":{"name":"fast"},"mark":{"type":"line","color":"#F7931E","strokeWidth":2,"interpolate":"monotone"},
 "encoding":{
  "x":{"field":"t","type":"temporal","title":null,"scale":{"domain":[{"year":2026,"month":4,"date":21,"hours":12,"minutes":14},{"year":2026,"month":4,"date":23,"hours":17,"minutes":31}],"padding":0}},
  "y":{"field":"v","type":"quantitative","title":null,"scale":{"domain":[214.652,215.875],"zero":false,"nice":false}}}},
{"data":{"values":[{}]},"mark":{"type":"text","align":"left","baseline":"middle","dx":4,"dy":6,"fontSize":8.2,"color":"#222","font":"Liberation Sans"},
 "encoding":{
  "x":{"datum":{"year":2026,"month":4,"date":21,"hours":12,"minutes":14},"type":"temporal","title":null,"scale":{"domain":[{"year":2026,"month":4,"date":21,"hours":12,"minutes":14},{"year":2026,"month":4,"date":23,"hours":17,"minutes":31}],"padding":0}},
  "y":{"datum":215.875,"type":"quantitative","title":null,"scale":{"domain":[214.652,215.875],"zero":false,"nice":false}},
  "text":{"value":"GBPJPY,M15  215.194 215.251 215.194 215.230"}}},
{"data":{"values":[{}]},"mark":{"type":"rect","color":"#2B3640"},
 "encoding":{
  "x":{"datum":{"year":2026,"month":4,"date":21,"hours":12,"minutes":14},"type":"temporal","title":null,"scale":{"domain":[{"year":2026,"month":4,"date":21,"hours":12,"minutes":14},{"year":2026,"month":4,"date":23,"hours":17,"minutes":31}],"padding":0}},
  "x2":{"datum":{"year":2026,"month":4,"date":21,"hours":15,"minutes":38}},
  "y":{"datum":214.695,"type":"quantitative","title":null,"scale":{"domain":[214.652,215.875],"zero":false,"nice":false}},
  "y2":{"datum":214.691}}},
{"data":{"values":[{}]},"mark":{"type":"rect","color":"#2B3640","cornerRadiusTopRight":3},
 "encoding":{
  "x":{"datum":{"year":2026,"month":4,"date":21,"hours":12,"minutes":14},"type":"temporal","title":null,"scale":{"domain":[{"year":2026,"month":4,"date":21,"hours":12,"minutes":14},{"year":2026,"month":4,"date":23,"hours":17,"minutes":31}],"padding":0}},
  "x2":{"datum":{"year":2026,"month":4,"date":21,"hours":16,"minutes":55}},
  "y":{"datum":214.690,"type":"quantitative","title":null,"scale":{"domain":[214.652,215.875],"zero":false,"nice":false}},
  "y2":{"datum":214.652}}},
{"data":{"values":[{}]},"mark":{"type":"text","align":"center","baseline":"middle","fontSize":17,"color":"#E4E6E8","font":"Liberation Sans"},
 "encoding":{
  "x":{"datum":{"year":2026,"month":4,"date":21,"hours":14,"minutes":33},"type":"temporal","title":null,"scale":{"domain":[{"year":2026,"month":4,"date":21,"hours":12,"minutes":14},{"year":2026,"month":4,"date":23,"hours":17,"minutes":31}],"padding":0}},
  "y":{"datum":214.670,"type":"quantitative","title":null,"scale":{"domain":[214.652,215.875],"zero":false,"nice":false}},
  "text":{"value":"GBPJPY M15"}}},
{"data":{"values":[{}]},"mark":{"type":"rect","color":"#000000"},
 "encoding":{
  "x":{"datum":{"year":2026,"month":4,"date":23,"hours":17,"minutes":33},"type":"temporal","title":null,"scale":{"domain":[{"year":2026,"month":4,"date":21,"hours":12,"minutes":14},{"year":2026,"month":4,"date":23,"hours":17,"minutes":31}],"padding":0}},
  "x2":{"datum":{"year":2026,"month":4,"date":23,"hours":18,"minutes":55}},
  "y":{"datum":215.239,"type":"quantitative","title":null,"scale":{"domain":[214.652,215.875],"zero":false,"nice":false}},
  "y2":{"datum":215.221}}},
{"data":{"values":[{}]},"mark":{"type":"text","align":"left","baseline":"middle","dx":3,"fontSize":8,"color":"#FFFFFF","font":"Liberation Sans"},
 "encoding":{
  "x":{"datum":{"year":2026,"month":4,"date":23,"hours":17,"minutes":33},"type":"temporal","title":null,"scale":{"domain":[{"year":2026,"month":4,"date":21,"hours":12,"minutes":14},{"year":2026,"month":4,"date":23,"hours":17,"minutes":31}],"padding":0}},
  "y":{"datum":215.230,"type":"quantitative","title":null,"scale":{"domain":[214.652,215.875],"zero":false,"nice":false}},
  "text":{"value":"215.230"}}}
]
}
